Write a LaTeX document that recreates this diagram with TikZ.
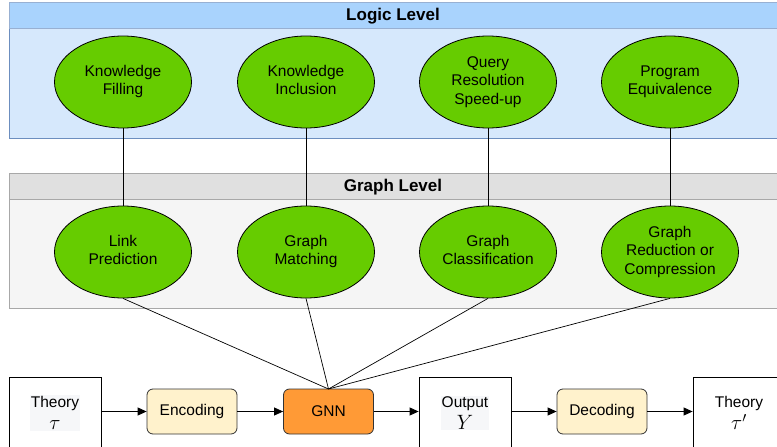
\documentclass[tikz,border=0pt]{standalone}
\usepackage{fontspec}
\setmainfont{Liberation Sans}
\usetikzlibrary{shapes.geometric,arrows.meta}

\definecolor{logichead}{HTML}{A9D3FD}
\definecolor{logicbody}{HTML}{D6E8FC}
\definecolor{logicline}{HTML}{6C8EBF}
\definecolor{graphhead}{HTML}{E0E0E0}
\definecolor{graphbody}{HTML}{F5F5F5}
\definecolor{graphline}{HTML}{A8A8A8}
\definecolor{taskgreen}{HTML}{66CC00}
\definecolor{codecfill}{HTML}{FFF2CC}
\definecolor{gnnfill}{HTML}{FF9A36}
\definecolor{labelbg}{HTML}{F6F7F9}

\newcommand{\bigmath}[1]{{\fontsize{20}{20}\selectfont$#1$}}
% centred multi-line text, lowered a little inside its shape
\newcommand{\tasktext}[1]{\raisebox{-5.5pt}{\begin{tabular}{@{}c@{}}#1\end{tabular}}}

\tikzset{
  task/.style={ellipse, draw=black, fill=taskgreen, line width=0.8pt,
    minimum width=137pt, minimum height=92pt, inner sep=0pt,
    font=\fontsize{15.5}{18.5}\selectfont},
  plainbox/.style={draw=black, fill=white, line width=0.8pt,
    minimum width=92pt, minimum height=70pt, inner sep=0pt},
  boxlabel/.style={inner sep=1pt, align=center,
    font=\fontsize{15.5}{19}\selectfont},
  procbox/.style={draw=black!80, rounded corners=6pt, line width=0.8pt,
    minimum width=90pt, minimum height=45pt, inner sep=0pt,
    font=\fontsize{15.5}{18.5}\selectfont},
  flow/.style={-{Triangle[length=9pt,width=8pt]}, line width=0.8pt},
  link/.style={line width=0.7pt},
  heading/.style={font=\fontsize{17}{20}\selectfont\bfseries}
}

\begin{document}
\begin{tikzpicture}[x=1pt,y=-1pt]
  \useasboundingbox (0,0) rectangle (777,447);
  \begin{scope}
    \clip (0,0) rectangle (777,447);

    % Logic level panel
    \fill[logicbody] (9,28) rectangle (790,138);
    \draw[logicline, line width=0.8pt] (790,138) -- (9,138) -- (9,28) -- (790,28);
    \fill[logichead] (9,2) rectangle (790,28);
    \draw[logicline!70, line width=0.8pt] (790,2) -- (9,2) -- (9,28) -- (790,28);
    \node[heading] (logictitle) at (393,16) {Logic Level};

    % Graph level panel
    \fill[graphbody] (9,199) rectangle (790,308);
    \draw[graphline, line width=0.8pt] (790,308) -- (9,308) -- (9,199) -- (790,199);
    \fill[graphhead] (9,173) rectangle (790,199);
    \draw[graphline, line width=0.8pt] (790,173) -- (9,173) -- (9,199) -- (790,199);
    \node[heading] (graphtitle) at (393,187) {Graph Level};

    % Logic-level tasks
    \node[task] (kf) at (123,82) {\tasktext{Knowledge\\Filling}};
    \node[task] (ki) at (306,82) {\tasktext{Knowledge\\Inclusion}};
    \node[task] (qr) at (488,82) {\tasktext{Query\\Resolution\\Speed-up}};
    \node[task] (pe) at (670,82) {\tasktext{Program\\Equivalence}};

    % Graph-level tasks
    \node[task] (lp) at (123,252) {\tasktext{Link\\Prediction}};
    \node[task] (gm) at (306,252) {\tasktext{Graph\\Matching}};
    \node[task] (gc) at (488,252) {\tasktext{Graph\\Classification}};
    \node[task] (gr) at (670,252) {\tasktext{Graph\\Reduction or\\Compression}};

    % Pipeline
    \node[plainbox] (th) at (55,412) {};
    \node[boxlabel, fill=labelbg] (thl) at (55,413) {Theory\\[3pt]\bigmath{\tau}};
    \node[procbox, fill=codecfill] (enc) at (192,411.5) {\raisebox{-3pt}{Encoding}};
    \node[procbox, fill=gnnfill] (gnn) at (328.5,411.5) {\raisebox{-3pt}{GNN}};
    \node[plainbox] (out) at (465,412) {};
    \node[boxlabel, fill=labelbg] (outl) at (465,413) {Output\\[3pt]\bigmath{Y}};
    \node[procbox, fill=codecfill] (dec) at (602,411.5) {\raisebox{-3pt}{Decoding}};
    \node[plainbox] (th2) at (739,412) {};
    \node[boxlabel] (th2l) at (739,413) {Theory\\[3pt]\bigmath{\tau'}};

    \coordinate (hub) at (328.5,389);

    % Vertical links between levels
    \draw[link] (kf.south) -- (lp.north);
    \draw[link] (ki.south) -- (gm.north);
    \draw[link] (qr.south) -- (gc.north);
    \draw[link] (pe.south) -- (gr.north);

    % Links from graph tasks to the GNN
    \draw[link] (lp.south) -- (hub);
    \draw[link] (gm.south) -- (hub);
    \draw[link] (gc.south) -- (hub);
    \draw[link] (gr.south) -- (hub);

    % Pipeline arrows
    \draw[flow] (th.east |- enc.center) -- (enc.west |- enc.center);
    \draw[flow] (enc.east |- enc.center) -- (gnn.west |- gnn.center);
    \draw[flow] (gnn.east |- gnn.center) -- (out.west |- gnn.center);
    \draw[flow] (out.east |- dec.center) -- (dec.west |- dec.center);
    \draw[flow] (dec.east |- dec.center) -- (th2.west |- dec.center);
  \end{scope}
\end{tikzpicture}
\end{document}
